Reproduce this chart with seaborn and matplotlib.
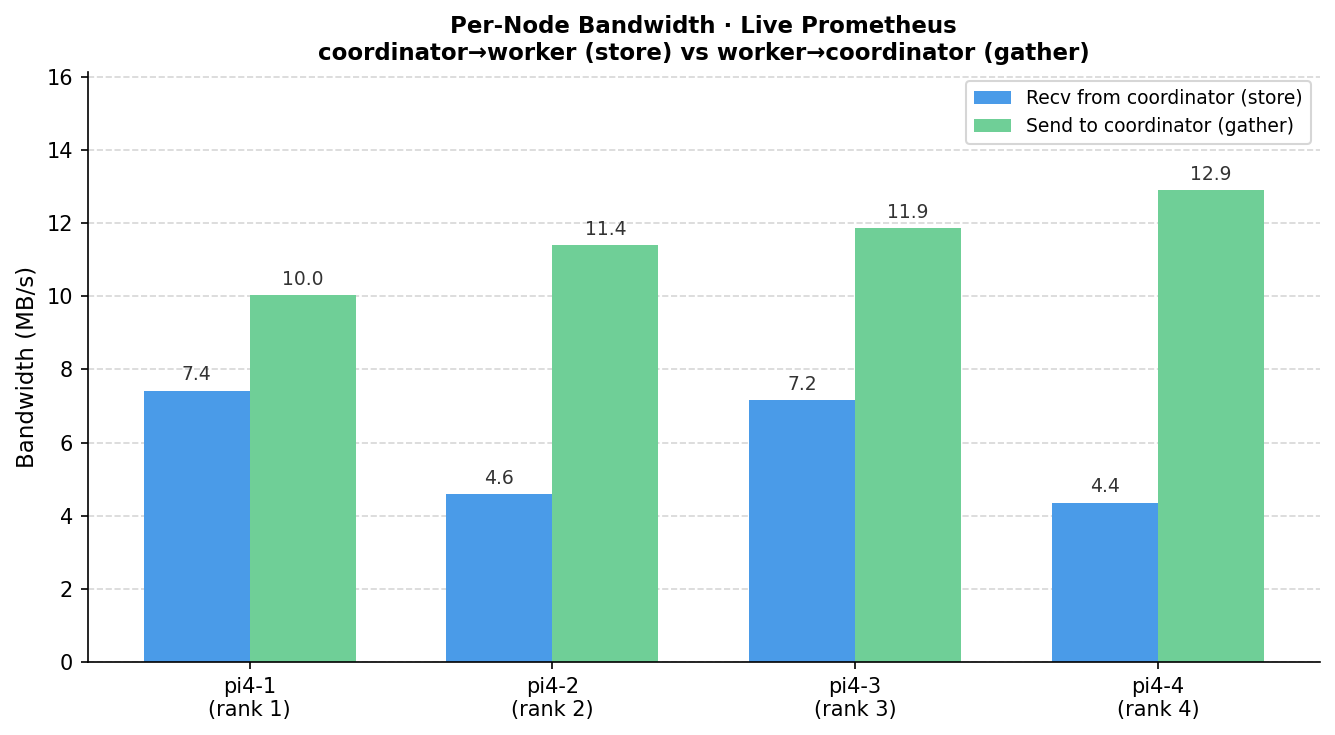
import numpy as np
import pandas as pd
import matplotlib
matplotlib.use("Agg")
import matplotlib.pyplot as plt
import seaborn as sns

# valores
nodes = ["pi4-1\n(rank 1)", "pi4-2\n(rank 2)", "pi4-3\n(rank 3)", "pi4-4\n(rank 4)"]
recv_store = [7.42, 4.60, 7.16, 4.36]
send_gather = [10.03, 11.40, 11.86, 12.90]
series_names = ["Recv from coordinator (store)", "Send to coordinator (gather)"]
colors = ["#4A9BE8", "#6FCF97"]

df = pd.DataFrame({
    "node": nodes * 2,
    "bw": recv_store + send_gather,
    "serie": [series_names[0]] * 4 + [series_names[1]] * 4,
})

plt.rcParams["font.family"] = ["DejaVu Sans"]

fig, ax = plt.subplots(figsize=(9, 5), dpi=150)
ax.set_axisbelow(True)
ax.yaxis.grid(True, linestyle="--", color="#cccccc", linewidth=0.8, alpha=0.8)

sns.barplot(data=df, x="node", y="bw", hue="serie", palette=colors,
            width=0.7, saturation=1, linewidth=0, ax=ax, errorbar=None)

for cont in ax.containers:
    ax.bar_label(cont, fmt="%.1f", padding=3, fontsize=9, color="#333333")

ax.set_xlim(-0.535, 3.535)
ax.set_ylim(0, max(send_gather) * 1.25)
ax.set_xlabel("")
ax.set_ylabel("Bandwidth (MB/s)", fontsize=11)
ax.tick_params(axis="both", labelsize=10)
ax.set_title("Per-Node Bandwidth · Live Prometheus\n"
             "coordinator\u2192worker (store) vs worker\u2192coordinator (gather)",
             fontsize=11, fontweight="bold")
sns.despine(ax=ax)
ax.legend(loc="upper right", fontsize=9, frameon=True)

plt.tight_layout()
plt.savefig("out.png", dpi=150, bbox_inches="tight")
